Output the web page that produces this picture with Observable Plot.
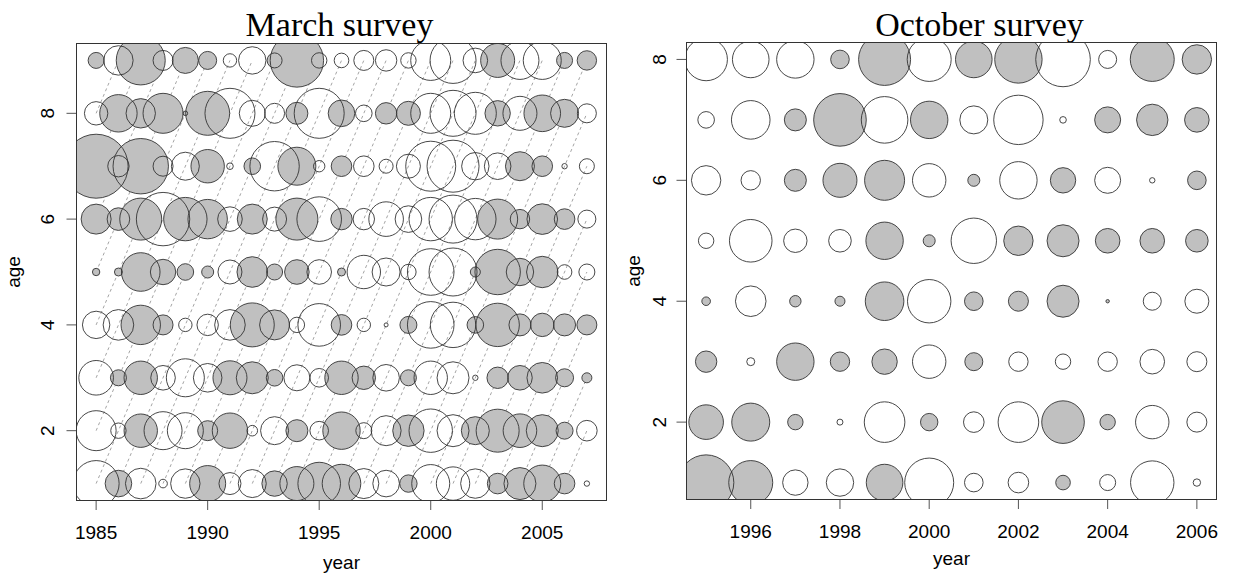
<!DOCTYPE html>
<html><head><meta charset="utf-8">
<script src="https://cdn.jsdelivr.net/npm/d3@7"></script>
<script src="https://cdn.jsdelivr.net/npm/@observablehq/plot@0.6"></script>
<style>
body{margin:0;background:#fff;}
#wrap{display:flex;width:1234px;height:579px;}
</style></head><body><div id="wrap"></div>
<script>
// ---- March survey: residuals by age (rows, 1..9) and year (columns, 1985..2007)
const marchYears = [1985,1986,1987,1988,1989,1990,1991,1992,1993,1994,1995,1996,1997,1998,1999,2000,2001,2002,2003,2004,2005,2006,2007];
const marchAges = [1,2,3,4,5,6,7,8,9];
const marchResid = [
  [-2.3, 1.33,-1.53,-0.43,-1.47, 1.8,-1.1,-1.4, 1.27, 1.7, 2.13, 1.93,-1.5,-1.33, 0.87,-1.9,-1.67,-1.47, 1.03, 1.6, 1.85, 1.03,-0.27],
  [-2.0,-0.77, 1.67,-1.9,-1.8, 1.0, 1.77,-0.53,-1.4, 1.1,-0.93, 1.87,-0.8,-1.5, 1.57,-2.17,-1.6, 1.4, 2.15, 1.68, 1.6, 0.85,-1.03],
  [-1.73, 0.8, 1.67,-1.23,-1.9,-1.43, 1.7, 1.6, 0.83,-1.3,-0.93, 1.67, 1.17,-1.33, 0.8,-1.67,-1.6,-0.27, 1.07, 1.23, 1.53, 0.9, 0.5],
  [-1.37,-1.53, 1.97, 1.0,-0.67,-1.07,-1.53, 2.2, 1.5,-0.77,-2.13, 1.03,-0.67,-0.2, 0.85,-2.33,-2.27, 0.83, 2.17, 1.1, 1.17, 1.1, 1.0],
  [0.37, 0.4, 1.93, 1.27, 0.83, 0.6,-1.2, 1.53, 0.8, 1.23,-1.23, 0.4,-1.67,-1.4,-0.77,-2.33,-2.4, 0.5, 2.27, 1.37, 1.57,-0.73,-0.8],
  [1.5, 1.13, 2.1,-2.67, 2.17, 1.97,-1.23, 1.5,-1.2, 2.1,-2.23, 1.07,-1.07,-1.73,-1.33,-2.17,-2.4,-2.07, 2.0, 0.97, 1.53, 1.03,-0.9],
  [3.2,-1.07, 2.77,-1.0,-1.4, 1.67,-0.33, 0.83,-2.47, 1.9,-0.57, 1.03,-1.03,-0.7,-1.2,-2.5,-2.6,-1.37,-1.33, 1.45, 1.03,-0.27,-0.75],
  [-1.17, 1.87, 1.47, 2.0, 0.23, 2.2,-2.5,-1.3,-1.0, 1.1,-2.5, 1.33,-0.83, 1.07, 1.2,-2.0,-2.3,-2.1, 1.27,-1.7, 1.83, 1.4,-0.95],
  [0.8,-1.47, 2.45,-1.0, 1.3, 0.9,-0.67,-1.37, 0.75, 2.67,-0.77,-0.73,-1.0,-1.07,-0.77,-2.0,-2.3,-1.23, 1.7,-1.9,-1.9, 0.8, 0.97]
];
const marchXTicks = [1985,1990,1995,2000,2005];

// ---- October survey: residuals by age (rows, 1..8) and year (columns, 1995..2006)
const octYears = [1995,1996,1997,1998,1999,2000,2001,2002,2003,2004,2005,2006];
const octAges = [1,2,3,4,5,6,7,8];
const octResid = [
  [2.77, 2.2,-1.27,-1.37, 1.83,-2.45,-0.93,-1.03, 0.73,-0.8,-2.17,-0.37],
  [1.73, 1.9, 0.77,-0.3,-2.03, 0.87,-1.03,-2.03, 2.13, 0.77,-1.67,-1.0],
  [1.07,-0.4, 1.87, 0.97, 1.27,-1.67, 0.9,-0.97,-0.77,-0.97,-1.23,-1.0],
  [0.43,-1.53, 0.57, 0.5, 1.93,-2.17, 0.93, 1.0, 1.6, 0.17,-0.9,-1.2],
  [-0.77,-2.13,-1.17,-1.13, 1.87, 0.6,-2.27, 1.47, 1.6, 1.23, 1.23, 1.13],
  [-1.47,-0.97, 1.1, 1.7, 2.0,-1.67, 0.6,-1.87, 1.27,-1.3,-0.27, 0.93],
  [-0.83,-1.93, 1.1, 2.63,-2.33, 1.87,-1.4,-2.47,-0.33, 1.3, 1.57, 1.23],
  [-2.13,-1.83,-1.87, 0.93, 2.6,-2.2, 1.83, 2.37,-2.73,-0.9, 2.2, 1.47]
];
const octXTicks = [1996,1998,2000,2002,2004,2006];
const ageTicks = [2,4,6,8];

function toLong(years, ages, resid) {
  const out = [];
  ages.forEach((age, i) => years.forEach((year, j) => out.push({year, age, v: resid[i][j]})));
  return out;
}
function cohortLines(years, ages) {
  const y0 = years[0], y1 = years[years.length - 1], a0 = ages[0], a1 = ages[ages.length - 1];
  const out = [];
  for (let c = y0 - a1; c <= y1 - a0; c++) {
    const sy = Math.max(y0, c + a0), ey = Math.min(y1, c + a1);
    if (ey > sy) out.push({x1: sy, y1: sy - c, x2: ey, y2: ey - c});
  }
  return out;
}
function ext(arr) {
  const lo = d3.min(arr), hi = d3.max(arr), p = (hi - lo) * 0.04;
  return [lo - p, hi + p];
}

const sans = "'Liberation Sans', Arial, Helvetica, sans-serif";
const serif = "'Liberation Serif', 'Times New Roman', serif";

function panel(o) {
  const data = toLong(o.years, o.ages, o.resid);
  const marks = [];
  if (o.cohorts) marks.push(Plot.link(cohortLines(o.years, o.ages), {
    x1: "x1", y1: "y1", x2: "x2", y2: "y2",
    stroke: "#9a9a9a", strokeWidth: 0.9, strokeDasharray: "3,3", clip: true
  }));
  marks.push(
    Plot.dot(data.filter(d => d.v > 0), {x: "year", y: "age", r: d => Math.abs(d.v), fill: "#c0c0c0", stroke: "none", clip: true}),
    Plot.dot(data, {x: "year", y: "age", r: d => Math.abs(d.v), fill: "none", stroke: "#333", strokeWidth: 0.9, clip: true}),
    Plot.axisX({ticks: o.xTicks, tickSize: 10, tickPadding: 14.5, tickFormat: d => String(d), fontSize: 19, stroke: "#555", fill: "black", label: null}),
    Plot.axisY({ticks: ageTicks, tickSize: 9.5, tickPadding: o.yPad, tickRotate: -90, textAnchor: "middle", lineAnchor: "bottom", fontSize: 19, stroke: "#555", fill: "black", label: null}),
    Plot.text([o.title], {text: d => d, frameAnchor: "top", dx: o.titleDx, dy: o.titleDy, lineAnchor: "bottom", fontFamily: serif, fontSize: 34, fill: "black"}),
    Plot.text(["year"], {text: d => d, frameAnchor: "bottom", dy: o.xLabDy, lineAnchor: "bottom", fontSize: 19, fill: "black"}),
    Plot.text(["age"], {text: d => d, frameAnchor: "left", dx: o.yLabDx, rotate: -90, textAnchor: "middle", lineAnchor: "bottom", fontSize: 19, fill: "black"}),
    Plot.frame({stroke: "#333", strokeWidth: 1})
  );
  return Plot.plot({
    width: 617, height: 579,
    marginLeft: o.m[0], marginRight: o.m[1], marginTop: o.m[2], marginBottom: o.m[3],
    x: {domain: ext(o.years)},
    y: {domain: ext(o.ages)},
    r: {type: "linear", domain: [0, 1], range: [0, 10]},
    style: {fontFamily: sans, fontSize: "19px", background: "white", overflow: "visible"},
    marks
  });
}

const wrap = document.getElementById("wrap");
wrap.append(panel({
  title: "March survey", years: marchYears, ages: marchAges, resid: marchResid, xTicks: marchXTicks,
  cohorts: true, m: [76, 11, 43, 79], titleDx: -2, titleDy: -8, xLabDy: 68, yLabDx: -56.7, yPad: 13
}));
wrap.append(panel({
  title: "October survey", years: octYears, ages: octAges, resid: octResid, xTicks: octXTicks,
  cohorts: false, m: [69, 18, 42, 80], titleDx: 28, titleDy: -7, xLabDy: 65.5, yLabDx: -46.7, yPad: 11.5
}));
</script></body></html>
